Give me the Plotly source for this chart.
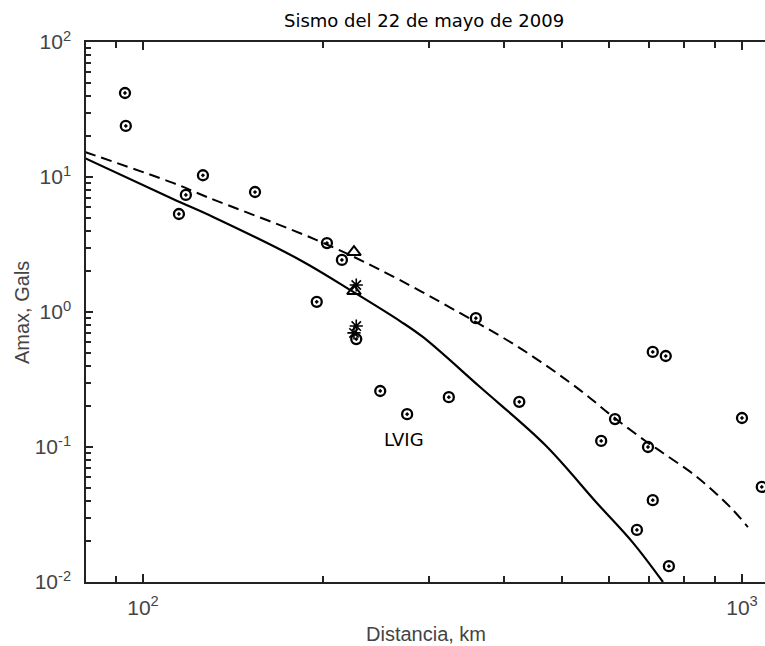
import plotly.graph_objects as go

# ---- data ----
obs_dist = [93.3, 93.6, 114.8, 117.9, 125.9, 153.8, 202.8, 214.8, 195, 227,
            248.9, 276, 324, 359.5, 424.8, 582, 613.7, 709.6, 746, 696.7,
            1000, 709.6, 667.7, 755, 1079]
obs_amax = [41.9, 23.9, 5.32, 7.36, 10.3, 7.74, 3.24, 2.43, 1.19, 0.63,
            0.26, 0.175, 0.234, 0.90, 0.216, 0.111, 0.161, 0.506, 0.472, 0.100,
            0.164, 0.0404, 0.0243, 0.0131, 0.0506]

tri_dist = [225, 225]
tri_amax = [2.78, 1.43]

star_dist = [227, 227, 225]
star_amax = [1.585, 0.787, 0.70]

solid_dist = [80, 112.2, 130.9, 182.8, 224.4, 268.6, 293.2, 365.3, 469.3, 572.4, 657.8, 738]
solid_amax = [13.8, 6.87, 5.06, 2.43, 1.41, 0.857, 0.653, 0.278, 0.1035, 0.0385, 0.0195, 0.01]

dash_dist = [80, 112.2, 127.9, 195, 248.9, 338, 430.5, 536.5, 609.5, 693.6, 738, 841, 955, 1023]
dash_amax = [15.3, 9.04, 7.11, 3.41, 2.05, 0.984, 0.524, 0.264, 0.167, 0.109, 0.0903, 0.060, 0.036, 0.0255]

x_major = [100, 1000]
x_major_text = ["10<sup>2</sup>", "10<sup>3</sup>"]
x_minor = [90, 200, 300, 400, 500, 600, 700, 800, 900]
y_major = [0.01, 0.1, 1, 10, 100]
y_major_text = ["10<sup>-2</sup>", "10<sup>-1</sup>", "10<sup>0</sup>", "10<sup>1</sup>", "10<sup>2</sup>"]
y_minor = [m * d for d in [0.01, 0.1, 1, 10] for m in range(2, 10)]

title_text = "Sismo del 22 de mayo de 2009"
xlabel = "Distancia, km"
ylabel = "Amax, Gals"
station_label = "LVIG"

# ---- figure ----
fig = go.Figure()
fig.add_trace(go.Scatter(x=dash_dist, y=dash_amax, mode="lines",
                         line=dict(color="black", width=2, dash="11px,6px", shape="spline", smoothing=1.0),
                         showlegend=False))
fig.add_trace(go.Scatter(x=solid_dist, y=solid_amax, mode="lines",
                         line=dict(color="black", width=2.2, shape="spline", smoothing=1.0),
                         showlegend=False))
fig.add_trace(go.Scatter(x=obs_dist, y=obs_amax, mode="markers",
                         marker=dict(symbol="circle-open-dot", size=10, color="black",
                                     line=dict(width=2.3, color="black")),
                         showlegend=False))
fig.add_trace(go.Scatter(x=tri_dist, y=tri_amax, mode="markers",
                         marker=dict(symbol="triangle-up-open", size=12, color="black",
                                     line=dict(width=2, color="black")),
                         showlegend=False))
fig.add_trace(go.Scatter(x=star_dist, y=star_amax, mode="markers",
                         marker=dict(symbol="asterisk-open", size=11, color="black",
                                     line=dict(width=1.6, color="black")),
                         showlegend=False))

grey = "#444444"
axcol = "#222222"
tickfont = dict(family="Liberation Sans, Arial, sans-serif", size=21, color=grey)

W, H = 765, 646
L, R, T, B = 86, 0, 42, 64
pw, ph = W - L - R, H - T - B

def px2paper(px, py):
    return (px - L) / pw, (H - B - py) / ph

fig.update_layout(
    width=W, height=H,
    margin=dict(l=L, r=R, t=T, b=B, autoexpand=False),
    paper_bgcolor="white", plot_bgcolor="white",
    xaxis=dict(type="log", range=[1.9048, 3.0384], automargin=False,
               showgrid=False, zeroline=False,
               showline=True, linecolor=axcol, linewidth=1.5, mirror="ticks",
               ticks="inside", ticklen=8, tickwidth=1.5, tickcolor=axcol,
               tickmode="array", tickvals=x_major, ticktext=x_major_text,
               tickfont=tickfont, ticklabelstandoff=6,
               minor=dict(tickmode="array", tickvals=x_minor, ticks="inside",
                          ticklen=6, tickwidth=1.5, tickcolor=axcol, showgrid=False)),
    yaxis=dict(type="log", range=[-2, 2], automargin=False,
               showgrid=False, zeroline=False,
               showline=True, linecolor=axcol, linewidth=1.5, mirror=False,
               ticks="inside", ticklen=7, tickwidth=1.5, tickcolor=axcol,
               tickmode="array", tickvals=y_major, ticktext=y_major_text,
               tickfont=tickfont, ticklabelstandoff=9,
               minor=dict(tickmode="array", tickvals=y_minor, ticks="inside",
                          ticklen=5, tickwidth=1.5, tickcolor=axcol, showgrid=False)),
    yaxis2=dict(type="log", range=[-2, 2], overlaying="y", side="right", automargin=False,
                showgrid=False, zeroline=False, showline=False,
                ticks="inside", ticklen=7, tickwidth=1.5, tickcolor=axcol,
                tickmode="array", tickvals=y_major, showticklabels=False),
)

anns = []
ax_, ay_ = px2paper(424, 20)
anns.append(dict(text=title_text, x=ax_, y=ay_, xref="paper", yref="paper",
                 showarrow=False, font=dict(family="DejaVu Sans", size=18, color="black"),
                 xanchor="center", yanchor="middle"))
ax_, ay_ = px2paper(426, 634)
anns.append(dict(text=xlabel, x=ax_, y=ay_, xref="paper", yref="paper",
                 showarrow=False, font=dict(family="Liberation Sans, Arial", size=20, color=grey),
                 xanchor="center", yanchor="middle"))
ax_, ay_ = px2paper(22, 313)
anns.append(dict(text=ylabel, x=ax_, y=ay_, xref="paper", yref="paper",
                 showarrow=False, textangle=-90,
                 font=dict(family="Liberation Sans, Arial", size=20, color=grey),
                 xanchor="center", yanchor="middle"))
anns.append(dict(text=station_label, x=2.436, y=-0.941, xref="x", yref="y",
                 showarrow=False, font=dict(family="DejaVu Sans", size=18, color="black"),
                 xanchor="center", yanchor="middle"))
fig.update_layout(annotations=anns)

fig.write_html("out.html", config={"displayModeBar": False},
               post_script="document.body.style.margin='0';document.body.style.overflow='hidden';")
